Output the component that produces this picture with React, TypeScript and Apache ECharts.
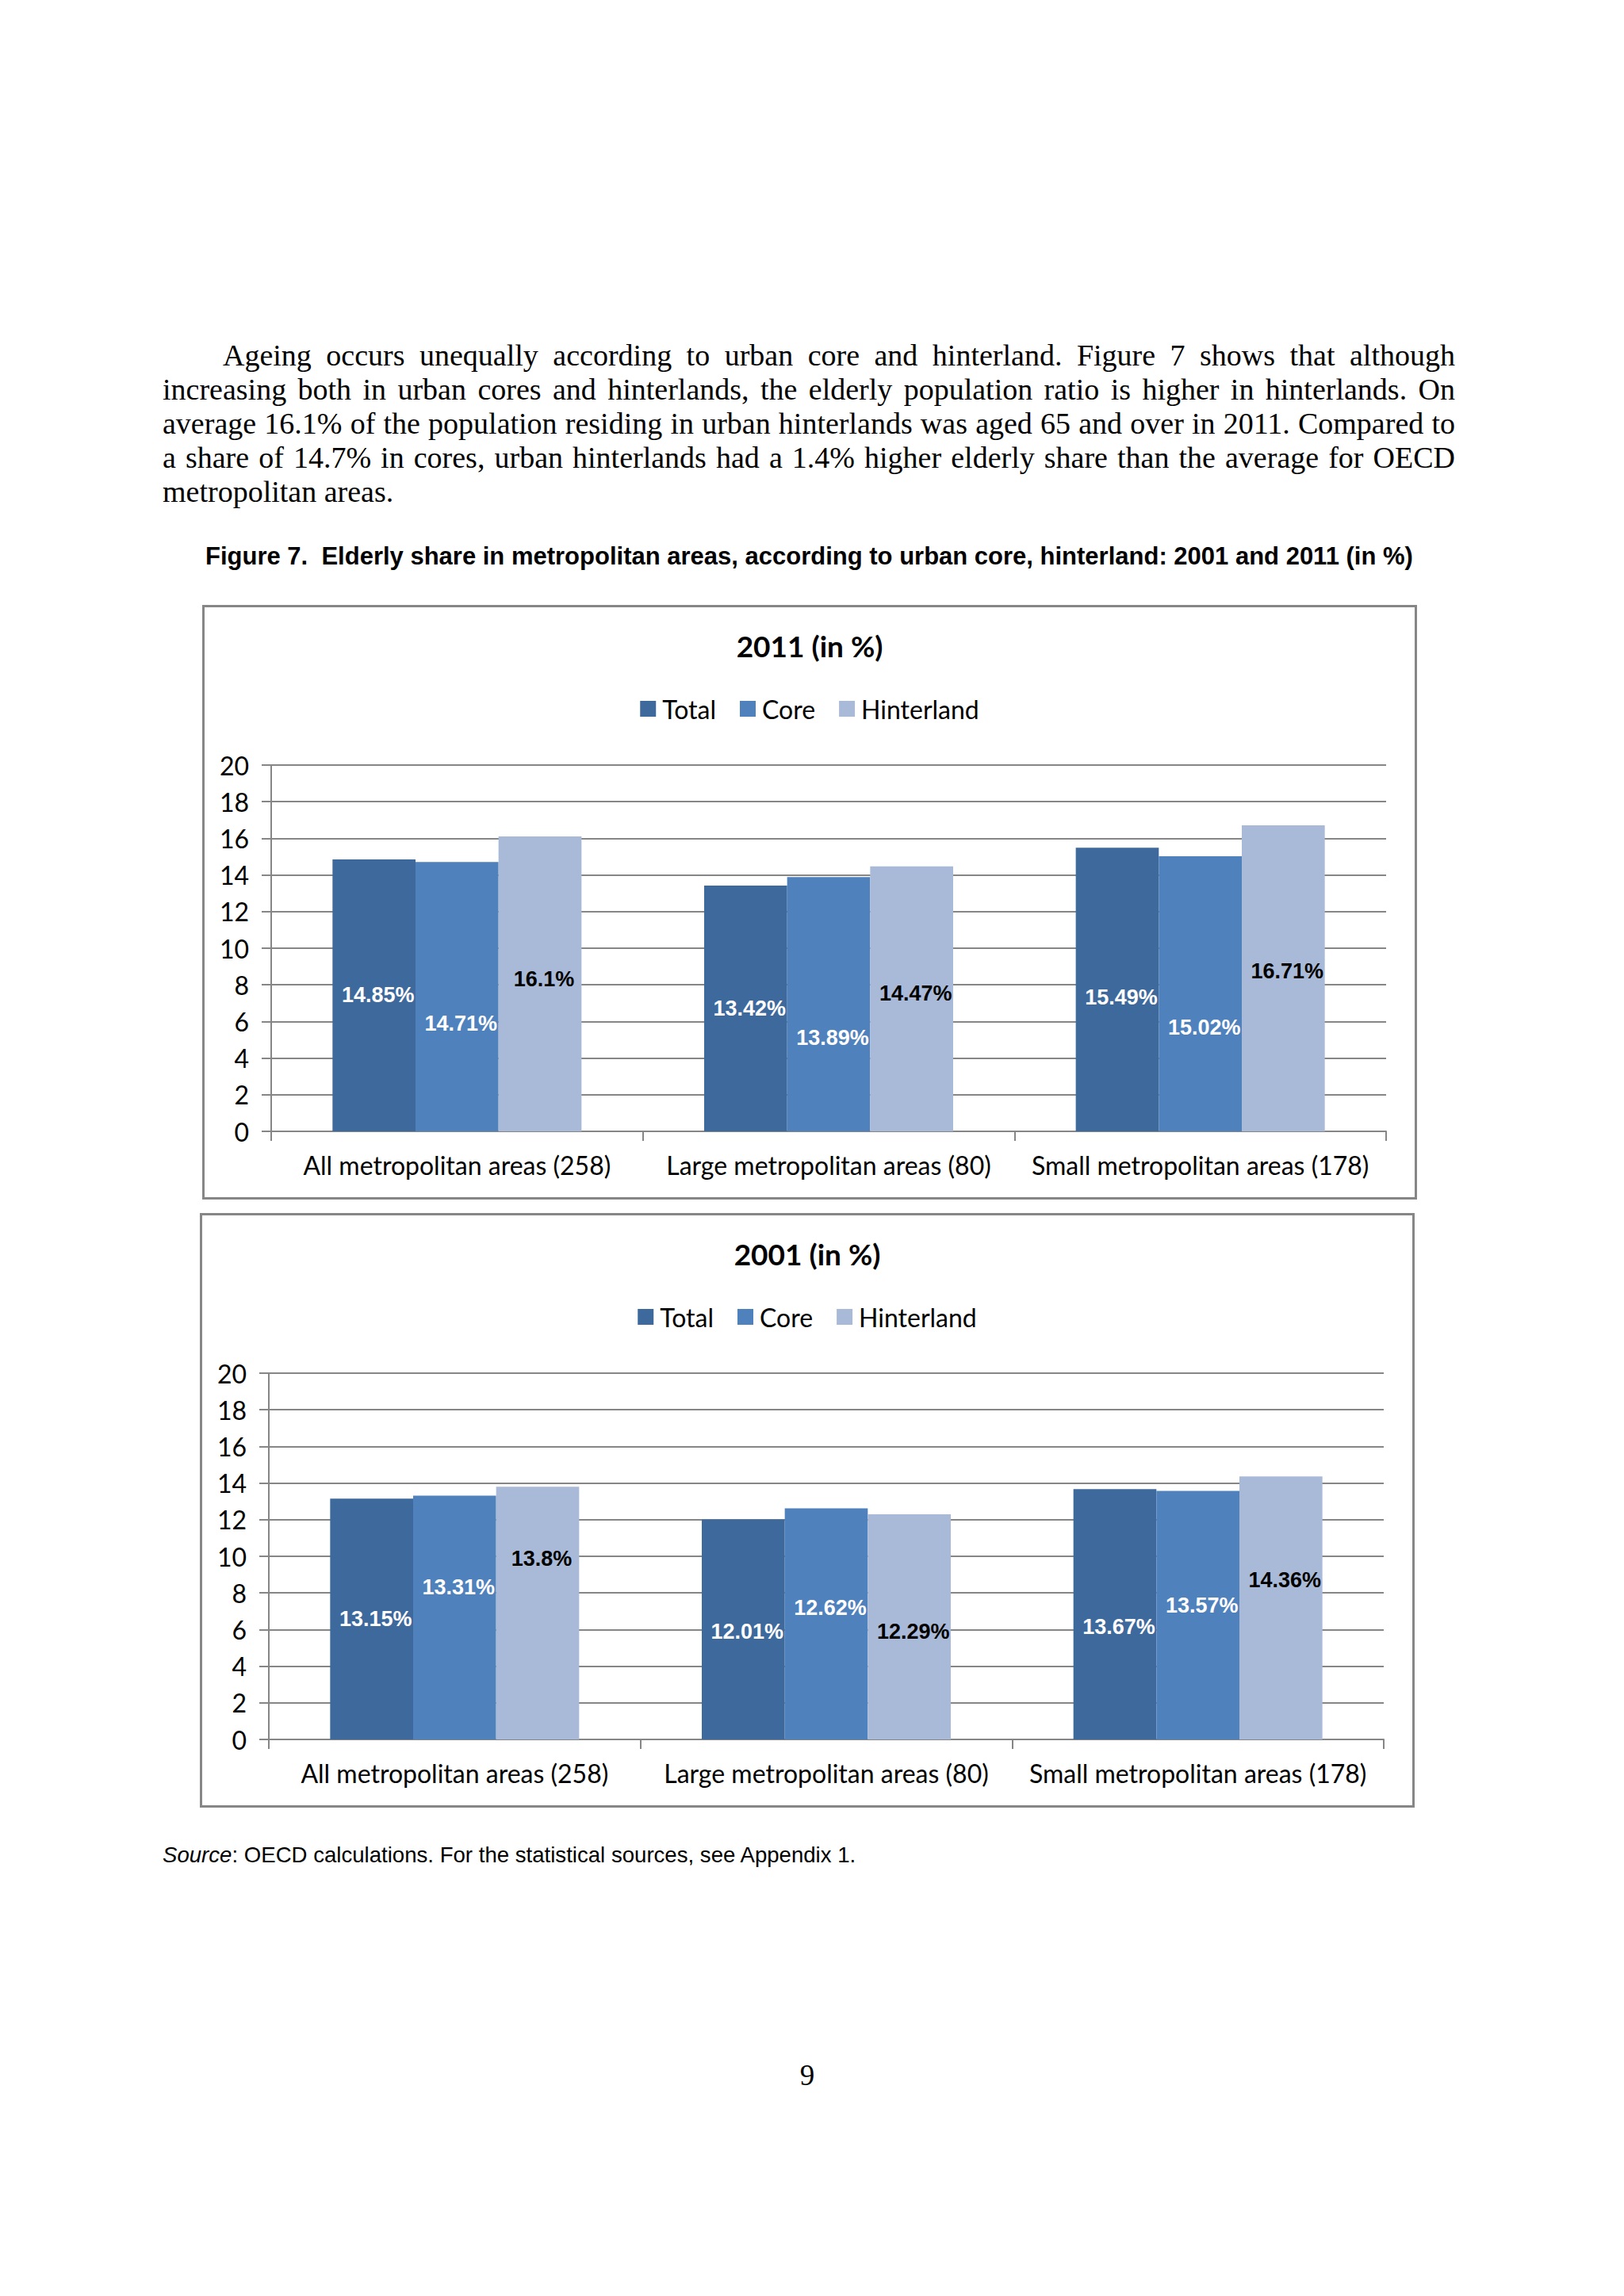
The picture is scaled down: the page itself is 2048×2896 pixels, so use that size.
import React, { useEffect, useRef } from "react";
import * as echarts from "echarts";

// ---------- Data ----------
const categories = [
  "All metropolitan areas (258)",
  "Large metropolitan areas (80)",
  "Small metropolitan areas (178)",
];
const seriesNames = ["Total", "Core", "Hinterland"];

const total2011 = [14.85, 13.42, 15.49];
const core2011 = [14.71, 13.89, 15.02];
const hinterland2011 = [16.1, 14.47, 16.71];

const total2001 = [13.15, 12.01, 13.67];
const core2001 = [13.31, 12.62, 13.57];
const hinterland2001 = [13.8, 12.29, 14.36];

const yMin = 0;
const yMax = 20;
const yInterval = 2;

// ---------- Styles ----------
const CHART_FONT = "Lato, 'Open Sans', sans-serif";
const LABEL_FONT = "'Liberation Sans', Arial, sans-serif";
const GRID_GRAY = "#868686";
const barColors = ["#3E699C", "#4F81BD", "#A9BAD8"];
const labelColors = ["#ffffff", "#ffffff", "#000000"];

// label vertical nudges (px, positive = down), per series per category
const labelNudge2011 = [
  [0, 0, 10],
  [34, 42, 42],
  [-6, -7, -9],
];
const labelNudge2001 = [
  [0, 3, 16],
  [-38, -20, -12],
  [-69, 6, -35],
];
const LABEL_DX = 5;

const CHART_W = 1532;
const CHART_H = 750;

function BarChart(props: { title: string; values: number[][]; nudges: number[][] }) {
  const ref = useRef<HTMLDivElement>(null);
  useEffect(() => {
    const chart = echarts.init(ref.current!, null, {
      renderer: "svg",
      width: CHART_W,
      height: CHART_H,
    });
    const lineStyle = { color: GRID_GRAY, width: 2 };
    chart.setOption({
      animation: false,
      backgroundColor: "#ffffff",
      title: {
        text: props.title,
        left: "center",
        top: 28,
        textStyle: {
          fontFamily: CHART_FONT,
          fontWeight: "bold",
          fontSize: 37,
          color: "#000",
        },
      },
      legend: {
        top: 110,
        left: "center",
        icon: "rect",
        itemWidth: 20,
        itemHeight: 20,
        itemGap: 30,
        data: seriesNames,
        textStyle: {
          fontFamily: CHART_FONT,
          fontSize: 32,
          color: "#000",
          padding: [0, 0, 0, 3],
        },
      },
      grid: { left: 87, right: 39, top: 202, bottom: 86, containLabel: false },
      xAxis: {
        type: "category",
        data: categories,
        axisLine: { show: true, lineStyle },
        axisTick: { show: true, length: 12, lineStyle },
        axisLabel: {
          interval: 0,
          margin: 26,
          fontSize: 32,
          color: "#000",
          fontFamily: CHART_FONT,
        },
        splitLine: { show: false },
      },
      yAxis: {
        type: "value",
        min: yMin,
        max: yMax,
        interval: yInterval,
        axisLine: { show: true, lineStyle },
        axisTick: { show: true, length: 12, lineStyle },
        axisLabel: {
          margin: 28,
          fontSize: 32,
          color: "#000",
          fontFamily: CHART_FONT,
        },
        splitLine: { show: true, lineStyle },
      },
      series: props.values.map((vals, i) => ({
        type: "bar",
        name: seriesNames[i],
        barGap: "0%",
        barCategoryGap: "33%",
        itemStyle: { color: barColors[i] },
        label: {
          show: true,
          position: "inside",
          formatter: "{c}%",
          color: labelColors[i],
          fontFamily: LABEL_FONT,
          fontWeight: "bold",
          fontSize: 27,
        },
        data: vals.map((v, j) => ({
          value: v,
          label: { offset: [LABEL_DX, props.nudges[i][j]] },
        })),
      })),
      graphic: [
        {
          type: "rect",
          z: 100,
          shape: { x: 1.5, y: 1.5, width: CHART_W - 3, height: CHART_H - 3 },
          style: { fill: "none", stroke: GRID_GRAY, lineWidth: 3 },
        },
      ],
    });
    return () => chart.dispose();
  }, []);
  return <div ref={ref} style={{ width: CHART_W, height: CHART_H }} />;
}

const paragraph =
  "Ageing occurs unequally according to urban core and hinterland. Figure 7 shows that although increasing both in urban cores and hinterlands, the elderly population ratio is higher in hinterlands. On average 16.1% of the population residing in urban hinterlands was aged 65 and over in 2011. Compared to a share of 14.7% in cores, urban hinterlands had a 1.4% higher elderly share than the average for OECD metropolitan areas.";

export default function App() {
  return (
    <div
      style={{
        position: "absolute",
        left: 0,
        top: 0,
        width: 2048,
        height: 2896,
        background: "#fff",
        overflow: "hidden",
      }}
    >
      <div
        style={{
          position: "absolute",
          left: 205,
          top: 427,
          width: 1630,
          fontFamily: "'Liberation Serif', 'Times New Roman', serif",
          fontSize: 38,
          lineHeight: "43px",
          textAlign: "justify",
          textIndent: 76,
          color: "#000",
        }}
      >
        {paragraph}
      </div>
      <div
        style={{
          position: "absolute",
          left: 259,
          top: 683,
          whiteSpace: "nowrap",
          fontFamily: "'Liberation Sans', Arial, sans-serif",
          fontWeight: "bold",
          fontSize: 31,
          lineHeight: "38px",
          color: "#000",
        }}
      >
        Figure 7.&nbsp; Elderly share in metropolitan areas, according to urban core, hinterland: 2001 and 2011 (in %)
      </div>
      <div style={{ position: "absolute", left: 255, top: 763 }}>
        <BarChart
          title="2011 (in %)"
          values={[total2011, core2011, hinterland2011]}
          nudges={labelNudge2011}
        />
      </div>
      <div style={{ position: "absolute", left: 252, top: 1530 }}>
        <BarChart
          title="2001 (in %)"
          values={[total2001, core2001, hinterland2001]}
          nudges={labelNudge2001}
        />
      </div>
      <div
        style={{
          position: "absolute",
          left: 205,
          top: 2324,
          whiteSpace: "nowrap",
          fontFamily: "'Liberation Sans', Arial, sans-serif",
          fontSize: 27.6,
          lineHeight: "32px",
          color: "#000",
        }}
      >
        <i>Source</i>: OECD calculations. For the statistical sources, see Appendix 1.
      </div>
      <div
        style={{
          position: "absolute",
          left: 0,
          width: 2036,
          top: 2596,
          textAlign: "center",
          fontFamily: "'Liberation Serif', 'Times New Roman', serif",
          fontSize: 37,
          lineHeight: "43px",
          color: "#000",
        }}
      >
        9
      </div>
    </div>
  );
}
